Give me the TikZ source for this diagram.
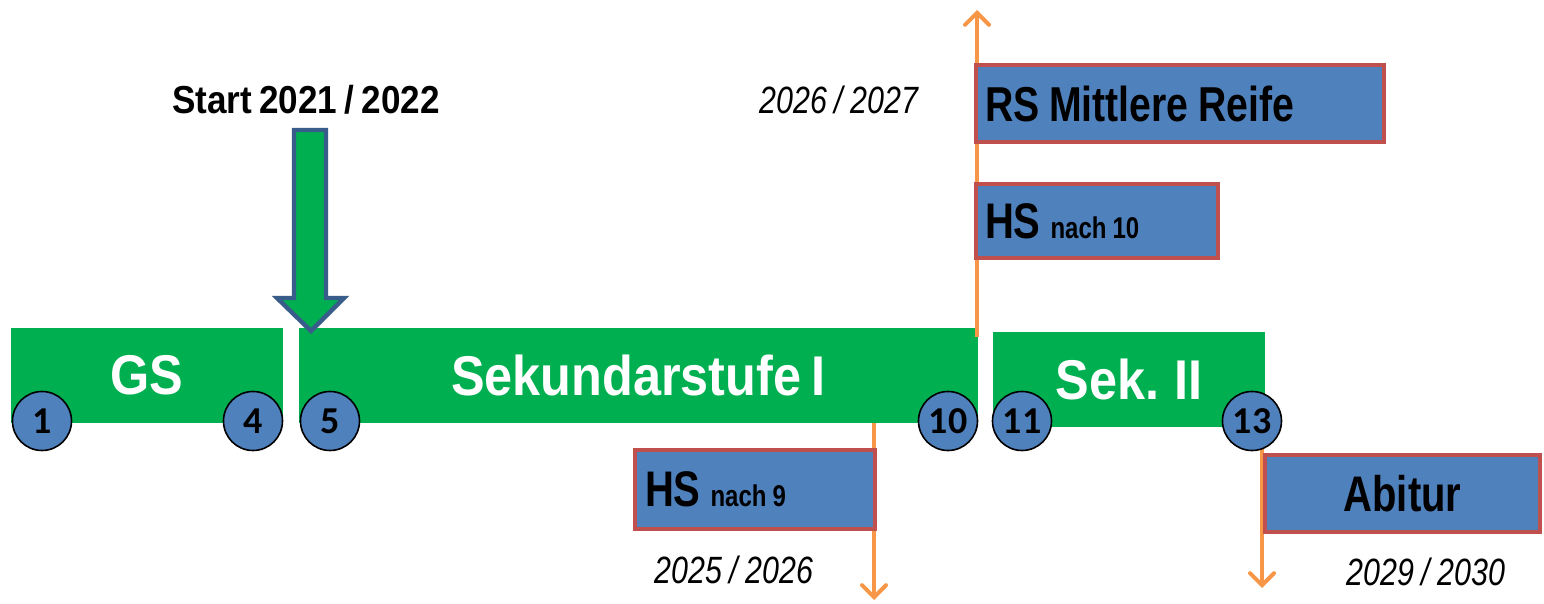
\documentclass[tikz,border=0pt]{standalone}
\usepackage{fontspec}
\setmainfont{Liberation Sans}
\newfontfamily\widefont[FakeStretch=0.9,WordSpace=0.75]{Liberation Sans}
\newfontfamily\narrowfont[FakeStretch=0.8,WordSpace=0.9]{Liberation Sans}
\newfontfamily\numfont{Carlito}
\usetikzlibrary{arrows.meta}
\definecolor{grn}{HTML}{00B050}
\definecolor{blu}{HTML}{4F81BD}
\definecolor{rdb}{HTML}{C0504D}
\definecolor{org}{HTML}{F79646}
\definecolor{dkb}{HTML}{385D8A}

\begin{document}
\begin{tikzpicture}
[x=0.5pt,y=-0.5pt]
\tikzset{circ/.style={circle,draw,line width=0.8pt,fill=blu,minimum size=29.5pt,inner sep=0pt,font=\numfont\bfseries\fontsize{19}{19}\selectfont}}
\tikzset{bar/.style={fill=grn,inner sep=0pt,minimum height=47.5pt,text=white,font=\widefont\bfseries\fontsize{28}{28}\selectfont}}
\tikzset{sq/.style={draw=rdb,line width=2pt,fill=blu,inner sep=0pt,font=\narrowfont\bfseries\fontsize{25}{25}\selectfont}}
\tikzset{orng/.style={org,line width=2pt,-{Straight Barb[length=6pt,width=12pt,line cap=round]}}}
\tikzset{yr/.style={font=\narrowfont\itshape\fontsize{19}{19}\selectfont}}
\useasboundingbox (0,0) rectangle (1544,604);

\node [bar,minimum width=136pt] (gs) at (147,375.5) {GS};
\node [bar,minimum width=339.5pt] (sek1) at (638.5,375.5) {Sekundarstufe I};
\node [bar,minimum width=136pt] (sek2) at (1129,379.5) {Sek. II};

\draw [fill=grn,draw=dkb,line width=2.2pt] (294,130) -- (326,130) -- (326,298) -- (344,298)
	-- (311,331) -- (277,298) -- (294,298) -- cycle;
\node [font=\widefont\bfseries\fontsize{19.5}{19.5}\selectfont] (start) at (306,100) {Start 2021 / 2022};

\coordinate (e9) at (874,600);
\coordinate (s10) at (977,337);
\coordinate (e10) at (977,10);
\coordinate (e13) at (1262,588);
\draw [orng] (sek1.south -| e9) -- (e9);
\draw [orng] (s10) -- (e10);
\draw [orng] (sek2.south -| e13) -- (e13);

\node [sq,minimum width=120pt,minimum height=39.5pt] (hs9) at (755,489.5)
	{\makebox[110pt][l]{HS {\fontsize{15}{15}\selectfont nach 9}}};
\node [sq,minimum width=121pt,minimum height=37pt] (hs10) at (1097,221)
	{\makebox[112pt][l]{HS {\fontsize{15}{15}\selectfont nach 10}}};
\node [sq,minimum width=204pt,minimum height=38.5pt,font=\narrowfont\bfseries\fontsize{24.5}{24.5}\selectfont] (rs) at (1180,103.5)
	{\makebox[195pt][l]{RS Mittlere Reife}};
\node [sq,minimum width=137.5pt,minimum height=38.5pt] (abi) at (1402.5,493.5) {Abitur};

\node [yr] (y9) at (734,570) {2025 / 2026};
\node [yr] (y10) at (839,100) {2026 / 2027};
\node [yr] (y13) at (1426,572) {2029 / 2030};

\foreach \n/\x in {1/42,4/253,5/330,10/948,11/1022,13/1252}
	\node [circ] (c\n) at (\x,421) {\n};
\end{tikzpicture}
\end{document}
